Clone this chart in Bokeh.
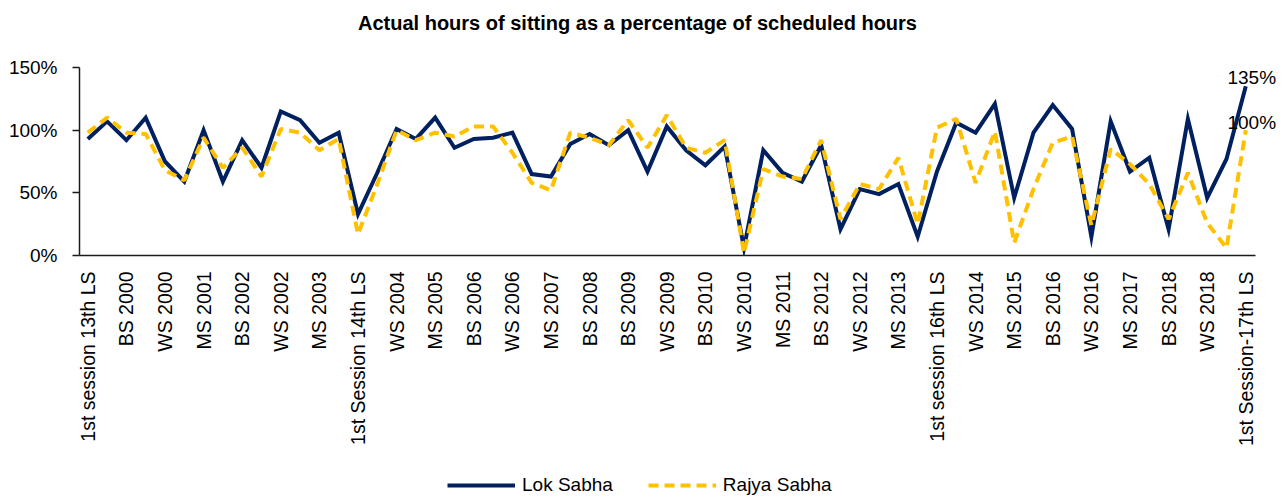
from bokeh.plotting import figure
from bokeh.layouts import column
from bokeh.models import (Range1d, FixedTicker, PrintfTickFormatter, Legend, LegendItem,
                          Label, LabelSet, ColumnDataSource)
from bokeh.core.properties import value
from bokeh.embed import file_html
from bokeh.resources import INLINE

# ---------------- data ----------------
sessions = [
    "1st session 13th LS", "WS 1999", "BS 2000", "MS 2000", "WS 2000", "BS 2001", "MS 2001",
    "WS 2001", "BS 2002", "MS 2002", "WS 2002", "BS 2003", "MS 2003", "WS 2003",
    "1st Session 14th LS", "MS 2004", "WS 2004", "BS 2005", "MS 2005", "WS 2005", "BS 2006",
    "MS 2006", "WS 2006", "BS 2007", "MS 2007", "WS 2007", "BS 2008", "MS 2008", "BS 2009",
    "1st session 15th LS", "WS 2009", "Special session 2010", "BS 2010", "MS 2010", "WS 2010",
    "BS 2011", "MS 2011", "WS 2011", "BS 2012", "MS 2012", "WS 2012", "BS 2013", "MS 2013",
    "WS 2013", "1st session 16th LS", "BS 2014", "WS 2014", "BS 2015", "MS 2015", "WS 2015",
    "BS 2016", "MS 2016", "WS 2016", "BS 2017", "MS 2017", "WS 2017", "BS 2018", "MS 2018",
    "WS 2018", "BS 2019", "1st Session-17th LS",
]
lok_sabha = [93, 107, 92, 110, 75, 59, 100, 59, 92, 70, 115, 108, 90, 98, 33, 66, 101, 93,
             110, 86, 93, 94, 98, 65, 63, 89, 97, 88, 100, 67, 103, 84, 72, 87, 6, 84, 66,
             59, 88, 21, 53, 49, 57, 15, 67, 106, 98, 121, 46, 98, 120, 101, 15, 107, 67,
             78, 21, 109, 46, 77, 135]
rajya_sabha = [98, 110, 98, 97, 68, 60, 94, 70, 86, 63, 101, 98, 84, 93, 17, 57, 100, 92,
               98, 95, 103, 103, 82, 58, 52, 98, 94, 88, 108, 86, 112, 86, 82, 92, 2, 69, 63,
               61, 92, 29, 57, 53, 78, 25, 102, 109, 58, 99, 10, 53, 90, 95, 24, 85, 73, 57,
               29, 66, 26, 6, 100]
y_ticks = [0, 50, 100, 150]
series_names = ["Lok Sabha", "Rajya Sabha"]
title_text = "Actual hours of sitting as a percentage of scheduled hours"

FONT = "Liberation Sans"
NAVY = "#002060"
GOLD = "#FFC000"
LW = 4
DASH = "10 6"
W = 1286
LEFT = 79  # frame left edge, shared by all stacked figures (column aligns frames)

idx = list(range(len(sessions)))
label_ticks = idx[::2]
x_lo, x_axis_hi, x_hi = -0.43, len(sessions) - 0.5, 62.11

src = ColumnDataSource(dict(x=idx, lok=lok_sabha, rajya=rajya_sabha, name=sessions))


def blank_figure(height, y0=0):
    f = figure(width=W, height=height, output_backend="svg", toolbar_location=None,
               x_range=Range1d(LEFT, W), y_range=Range1d(y0, y0 + height),
               x_axis_location=None, y_axis_location=None,
               min_border_left=0, min_border_right=0, min_border_top=0, min_border_bottom=0)
    f.grid.grid_line_color = None
    f.outline_line_color = None
    return f


# ---------------- title ----------------
title_fig = blank_figure(44)
title_fig.add_layout(Label(x=637, y=22, text=title_text, text_align="center",
                           text_baseline="middle", text_font=FONT, text_font_style="bold",
                           text_font_size="20px", text_color="#000000"))

# ---------------- main chart ----------------
p = figure(width=W, height=418, output_backend="svg", toolbar_location=None,
           x_range=Range1d(x_lo, x_hi), y_range=Range1d(0, 150),
           min_border_left=LEFT, min_border_right=0, min_border_top=23, min_border_bottom=207)
p.outline_line_color = None
p.grid.grid_line_color = None

p.line("x", "lok", source=src, line_color=NAVY, line_width=LW, line_join="miter")
p.line("x", "rajya", source=src, line_color=GOLD, line_width=LW, line_dash=DASH)

ya = p.yaxis[0]
ya.ticker = FixedTicker(ticks=y_ticks)
ya.formatter = PrintfTickFormatter(format="%d%%")
ya.major_tick_in = 0
ya.major_tick_out = 7
ya.minor_tick_line_color = None
ya.major_label_standoff = 15
ya.major_label_text_font = FONT
ya.major_label_text_font_size = "19px"
ya.major_label_text_color = "#000000"
ya.axis_line_color = "#1a1a1a"
ya.axis_line_width = 1.5
ya.major_tick_line_color = "#1a1a1a"
ya.major_tick_line_width = 1.5

xa = p.xaxis[0]
xa.bounds = (x_lo, x_axis_hi)
xa.ticker = FixedTicker(ticks=label_ticks)
xa.major_label_overrides = {i: sessions[i] for i in label_ticks}
xa.major_label_orientation = 3.14159265 / 2
xa.major_tick_in = 0
xa.major_tick_out = 0
xa.minor_tick_line_color = None
xa.major_label_standoff = 16
xa.major_label_text_font = FONT
xa.major_label_text_font_size = "19.5px"
xa.major_label_text_color = "#000000"
xa.axis_line_color = "#1a1a1a"
xa.axis_line_width = 1.5

end_src = ColumnDataSource(dict(
    x=[idx[-1], idx[-1]],
    y=[lok_sabha[-1], rajya_sabha[-1]],
    t=[f"{lok_sabha[-1]}%", f"{rajya_sabha[-1]}%"],
    yo=[9, 8],
))
p.add_layout(LabelSet(x="x", y="y", text="t", source=end_src, x_offset=6, y_offset="yo",
                      text_align="center", text_baseline="middle", text_font=value(FONT),
                      text_font_size=value("19px"), text_color="#000000"))

# ---------------- legend (series drawn off-view; only their legend keys show) ----------------
leg_fig = blank_figure(36, y0=1000)
g1 = leg_fig.line("x", "lok", source=src, line_color=NAVY, line_width=LW)
g2 = leg_fig.line("x", "rajya", source=src, line_color=GOLD, line_width=LW, line_dash=DASH)
legend = Legend(items=[LegendItem(label=series_names[0], renderers=[g1]),
                       LegendItem(label=series_names[1], renderers=[g2])],
                orientation="horizontal", location=(447 - LEFT, 2),
                glyph_width=68, glyph_height=20, label_standoff=7, spacing=35,
                label_text_font=FONT, label_text_font_size="19px",
                label_text_color="#000000", border_line_color=None,
                background_fill_alpha=0, padding=0, margin=0)
leg_fig.add_layout(legend, "center")

layout = column(title_fig, p, leg_fig, spacing=0)
open("out.html", "w").write(file_html(layout, INLINE))
